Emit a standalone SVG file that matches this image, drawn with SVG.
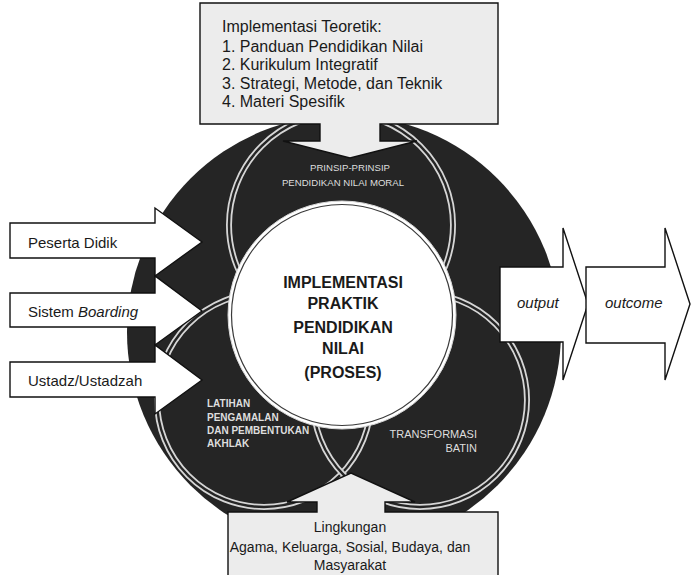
<svg xmlns="http://www.w3.org/2000/svg" width="691" height="575" viewBox="0 0 691 575">
<defs>
<style>
.box{fill:#ffffff;stroke:#111;stroke-width:1.4}
.gbox{fill:#ececec;stroke:#111;stroke-width:1.4}
.ring{fill:none;stroke:#d6d6d6;stroke-width:6}
.ringin{fill:none;stroke:#252525;stroke-width:2.4}
.t{font-family:"Liberation Sans",Arial,sans-serif;fill:#1a1a1a}
.w{font-family:"Liberation Sans",Arial,sans-serif;fill:#dedede}
</style>
</defs>
<rect width="691" height="575" fill="#ffffff"/>
<g id="dark-disc"><circle cx="344" cy="332" r="217" fill="#252525"/></g>
<g id="circle-top">
<text class="w" font-size="9.6" text-anchor="middle" x="350" y="171">PRINSIP-PRINSIP</text>
<text class="w" font-size="9.6" text-anchor="middle" x="343" y="186">PENDIDIKAN NILAI MORAL</text>
</g>
<g id="circle-bottom-left">
<text class="w" font-size="10" font-weight="bold" x="207" y="407">LATIHAN</text>
<text class="w" font-size="10" font-weight="bold" x="207" y="421">PENGAMALAN</text>
<text class="w" font-size="10" font-weight="bold" x="207" y="434">DAN PEMBENTUKAN</text>
<text class="w" font-size="10" font-weight="bold" x="207" y="447">AKHLAK</text>
</g>
<g id="circle-bottom-right">
<text class="w" font-size="11" text-anchor="end" x="477" y="438">TRANSFORMASI</text>
<text class="w" font-size="11" text-anchor="end" x="477" y="452">BATIN</text>
</g>
<g id="rings">
<circle class="ring" cx="341" cy="225" r="112"/>
<circle class="ringin" cx="341" cy="225" r="112"/>
<circle class="ring" cx="264" cy="400" r="107"/>
<circle class="ringin" cx="264" cy="400" r="107"/>
<circle class="ring" cx="420" cy="400" r="107"/>
<circle class="ringin" cx="420" cy="400" r="107"/>
</g>
<g id="center">
<circle cx="342" cy="315" r="114" fill="#ffffff" stroke="#d6d6d6" stroke-width="1"/>
<circle cx="342" cy="315" r="110.5" fill="none" stroke="#3a3a3a" stroke-width="1.2"/>
<g class="t" font-size="16" font-weight="bold" text-anchor="middle">
<text x="343" y="288">IMPLEMENTASI</text>
<text x="343" y="309">PRAKTIK</text>
<text x="343" y="333">PENDIDIKAN</text>
<text x="343" y="354">NILAI</text>
<text x="343" y="378">(PROSES)</text>
</g>
</g>
<g id="connectors"></g>
<g id="top-box">
<path class="gbox" d="M200,3 H498 V124 H380 V141 H417 L350,158 L283,141 H320 V124 H200 Z"/>
<g class="t" font-size="16">
<text x="222" y="32">Implementasi Teoretik:</text>
<text x="222" y="52">1. Panduan Pendidikan Nilai</text>
<text x="222" y="70">2. Kurikulum Integratif</text>
<text x="222" y="89">3. Strategi, Metode, dan Teknik</text>
<text x="222" y="107">4. Materi Spesifik</text>
</g>
</g>
<g id="bottom-box">
<path class="gbox" d="M228,577 V512 H317 V502 H287 L351,473 L415,502 H385 V512 H498 V577 Z"/>
<g class="t" font-size="14" text-anchor="middle">
<text x="350" y="532">Lingkungan</text>
<text x="350" y="552">Agama, Keluarga, Sosial, Budaya, dan</text>
<text x="350" y="570">Masyarakat</text>
</g>
</g>
<g id="peserta-didik">
<path class="box" d="M10,223 H155 V208 L202,242 L155,276 V258 H10 Z"/>
<text class="t" font-size="15" x="28" y="248">Peserta Didik</text>
</g>
<g id="sistem-boarding">
<path class="box" d="M10,293 H155 V276 L202,311 L155,345 V327 H10 Z"/>
<text class="t" font-size="15" x="28" y="317">Sistem <tspan font-style="italic">Boarding</tspan></text>
</g>
<g id="ustadz">
<path class="box" d="M10,362 H155 V345 L202,380 L155,414 V397 H10 Z"/>
<text class="t" font-size="15" x="28" y="386">Ustadz/Ustadzah</text>
</g>
<g id="output">
<path class="box" d="M500,267 H563 V228 L588,304 L563,380 V342 H500 Z"/>
<text class="t" font-size="15" font-style="italic" x="517" y="308">output</text>
</g>
<g id="outcome">
<path class="box" d="M586,267 H665 V228 L690,304 L665,380 V343 H586 Z"/>
<text class="t" font-size="15" font-style="italic" x="605" y="308">outcome</text>
</g>
</svg>
